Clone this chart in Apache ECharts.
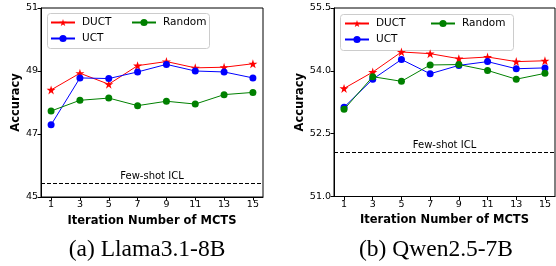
<!DOCTYPE html>
<html><head><meta charset="utf-8">
<script src="https://cdn.jsdelivr.net/npm/echarts@6/dist/echarts.min.js"></script>
<style>html,body{margin:0;padding:0;background:#fff}#c{width:556px;height:266px}</style>
</head><body><div id="c"></div>
<script>
const iterations = [1, 3, 5, 7, 9, 11, 13, 15];
const xTicks = [1, 3, 5, 7, 9, 11, 13, 15];
// (a) Llama3.1-8B
const llamaDUCT = [48.40, 48.93, 48.58, 49.17, 49.30, 49.10, 49.12, 49.23];
const llamaUCT = [47.29, 48.78, 48.76, 48.97, 49.21, 49.00, 48.97, 48.78];
const llamaRandom = [47.73, 48.07, 48.14, 47.90, 48.04, 47.95, 48.25, 48.32];
const llamaICL = 45.43;
const llamaYTicks = [45, 47, 49, 51];
// (b) Qwen2.5-7B
const qwenDUCT = [53.58, 53.97, 54.45, 54.41, 54.29, 54.33, 54.22, 54.24];
const qwenUCT = [53.13, 53.80, 54.27, 53.93, 54.13, 54.22, 54.05, 54.07];
const qwenRandom = [53.08, 53.86, 53.75, 54.14, 54.15, 54.01, 53.80, 53.94];
const qwenICL = 52.06;
const qwenYTicks = [51.0, 52.5, 54.0, 55.5];
const captions = ['(a) Llama3.1-8B', '(b) Qwen2.5-7B'];
const seriesNames = ['DUCT', 'UCT', 'Random'];

const STAR = 'path://M50,0 L61.2,34.5 L97.6,34.5 L68.2,55.9 L79.4,90.5 L50,69.1 L20.6,90.5 L31.8,55.9 L2.4,34.5 L38.8,34.5 Z';
const colors = ['#ff0000', '#0000ff', '#008000'];
const symbols = [STAR, 'circle', 'circle'];
const symSizes = [9, 7, 7];
const F = 'DejaVu Sans';

const grids = [
  {left: 41, top: 8, width: 222, height: 189},
  {left: 334, top: 8, width: 221, height: 188.5}
];

function mkX(i) {
  return {
    type: 'value', gridIndex: i, min: 0.3, max: 15.7,
    name: 'Iteration Number of MCTS', nameLocation: 'middle', nameGap: 12,
    nameTextStyle: {fontFamily: F, fontWeight: 'bold', fontSize: 11.5, color: '#000'},
    axisLine: {show: true, lineStyle: {color: '#000', width: 1}},
    axisTick: {show: true, length: 3.5, customValues: xTicks, lineStyle: {color: '#000'}},
    axisLabel: {customValues: xTicks, fontFamily: F, fontSize: 9.5, color: '#000', margin: 3},
    splitLine: {show: false}
  };
}
function mkY(i, ticks, gap, fmt) {
  const interval = ticks[1] - ticks[0];
  return {
    type: 'value', gridIndex: i, min: ticks[0], max: ticks[ticks.length - 1], interval: interval,
    name: 'Accuracy', nameLocation: 'middle', nameGap: gap,
    nameTextStyle: {fontFamily: F, fontWeight: 'bold', fontSize: 11.5, color: '#000'},
    axisLine: {show: true, lineStyle: {color: '#000', width: 1}},
    axisTick: {show: true, length: 3.5, lineStyle: {color: '#000'}},
    axisLabel: {fontFamily: F, fontSize: 9.5, color: '#000', margin: 3, formatter: fmt},
    splitLine: {show: false}
  };
}

const datasets = [[llamaDUCT, llamaUCT, llamaRandom], [qwenDUCT, qwenUCT, qwenRandom]];
const icl = [llamaICL, qwenICL];
const series = [];
for (let g = 0; g < 2; g++) {
  for (let s = 0; s < 3; s++) {
    series.push({
      type: 'line', name: seriesNames[s], xAxisIndex: g, yAxisIndex: g,
      data: iterations.map((x, k) => [x, datasets[g][s][k]]),
      symbol: symbols[s], symbolSize: symSizes[s], showAllSymbol: true,
      itemStyle: {color: colors[s]}, lineStyle: {color: colors[s], width: 1},
      emphasis: {disabled: true}, animation: false, z: 3 + s
    });
  }
  series.push({
    type: 'line', name: 'icl' + g, xAxisIndex: g, yAxisIndex: g, data: [],
    markLine: {
      silent: true, symbol: 'none', animation: false,
      lineStyle: {type: [4, 2], color: '#000', width: 1},
      label: {show: true, position: 'insideMiddleTop', formatter: 'Few-shot ICL', color: '#000', fontFamily: F, fontSize: 10, distance: 2},
      data: [{yAxis: icl[g]}]
    }
  });
}

const legendBoxes = [
  {x: 47, y: 13, w: 162, h: 35, col1: 50, col2: 131},
  {x: 340, y: 14, w: 173, h: 36, col1: 344, col2: 430}
];
const legends = [];
const graphics = [];
legendBoxes.forEach((b, g) => {
  const base = {
    orient: 'vertical', itemWidth: 24, itemHeight: 9, itemGap: 5, padding: 0,
    textStyle: {fontFamily: F, fontSize: 10.5, color: '#000', padding: [0, 0, 0, 2]},
    selectedMode: false
  };
  legends.push(Object.assign({}, base, {left: b.col1, top: b.y + 4, data: ['DUCT', 'UCT']}));
  legends.push(Object.assign({}, base, {left: b.col2, top: b.y + 4, data: ['Random']}));
  graphics.push({type: 'rect', left: b.x, top: b.y, shape: {width: b.w, height: b.h, r: 3}, style: {fill: 'rgba(255,255,255,0.8)', stroke: '#cccccc', lineWidth: 1}, z: 1});
});
graphics.push({type: 'text', x: 147, y: 250, style: {text: captions[0], fontFamily: 'Liberation Serif', fontSize: 23.5, fill: '#000', align: 'center', verticalAlign: 'middle'}});
graphics.push({type: 'text', x: 436, y: 250, style: {text: captions[1], fontFamily: 'Liberation Serif', fontSize: 23.5, fill: '#000', align: 'center', verticalAlign: 'middle'}});

const chart = echarts.init(document.getElementById('c'), null, {renderer: 'canvas'});
chart.setOption({
  animation: false,
  grid: grids.map(g => Object.assign({show: true, borderColor: '#000', borderWidth: 1, backgroundColor: 'transparent'}, g)),
  xAxis: [mkX(0), mkX(1)],
  yAxis: [mkY(0, llamaYTicks, 16, v => String(v)), mkY(1, qwenYTicks, 27, v => v.toFixed(1))],
  legend: legends,
  graphic: graphics,
  series: series
});
</script></body></html>
